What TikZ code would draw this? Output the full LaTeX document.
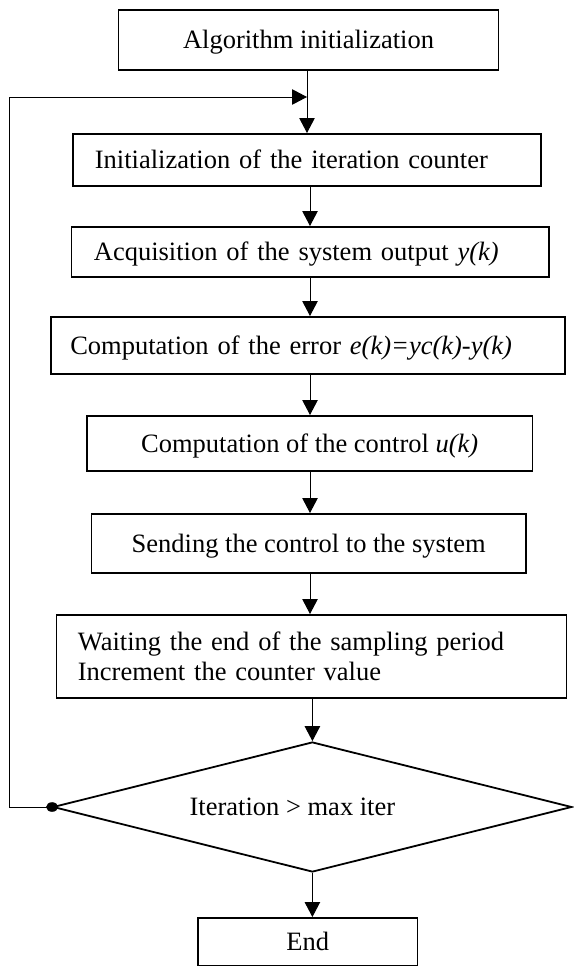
\documentclass[tikz,border=0pt]{standalone}
\usepackage{fontspec}
\setmainfont{Liberation Serif}
\usetikzlibrary{arrows.meta,shapes.geometric}
\begin{document}
\begin{tikzpicture}[x=1pt,y=-1pt,
  every node/.style={font=\fontsize{26.5}{30}\selectfont},
  stepbox/.style={draw,line width=1.8pt,rectangle,inner ysep=0pt,anchor=north west,
    text height=17.5pt,text depth=0pt},
  leftbox/.style 2 args={stepbox,minimum width=#1,inner xsep=#2,
    text width=#1-2*#2,align=left},
  midbox/.style={stepbox,minimum width=#1,inner xsep=0pt,align=center},
  arr/.style={line width=1pt,-{Triangle[length=15pt,width=15.5pt]}}]
\useasboundingbox (0,0) rectangle (573,966);

% process steps
\node[midbox=380pt,minimum height=60pt] (b1) at (117.6,9) {Algorithm initialization};
\node[leftbox={468pt}{22pt},minimum height=52pt] (b2) at (72,133)
  {Initialization of the iteration counter};
\node[leftbox={477.5pt}{22.5pt},minimum height=50pt] (b3) at (70.5,226)
  {Acquisition of the system output \textit{y(k)}};
\node[leftbox={514pt}{19pt},minimum height=57pt] (b4) at (50.4,316)
  {Computation of the error \textit{e(k)=yc(k)-y(k)}};
\node[midbox=445.6pt,minimum height=55pt] (b5) at (86,415)
  {Computation of the control \textit{u(k)}};
\node[midbox=434.4pt,minimum height=59pt] (b6) at (90.6,513)
  {Sending the control to the system};
\node[leftbox={510pt}{21.5pt},minimum height=83pt,text depth=30pt] (b7) at (55.5,614)
  {Waiting the end of the sampling period\\Increment the counter value};

% stop test
\node[draw,shape=diamond,aspect=4,line width=1.8pt,inner sep=0pt,
  minimum width=518.8pt,minimum height=130pt,
  label={[xshift=-20pt,text height=17.5pt,text depth=0pt]center:Iteration > max iter}]
  (dec) at (312.4,807) {};

\node[midbox=219.5pt,minimum height=48pt] (endb) at (197,917) {End};

% vertical flow
\coordinate (ax0) at (307,0);
\coordinate (ax) at (310,0);
\coordinate (fbx) at (9,0);
\coordinate (mrg) at (307,97);
\draw[arr] (b1.south -| ax0) -- (b2.north -| ax0);
\draw[arr] (b2.south -| ax) -- (b3.north -| ax);
\draw[arr] (b3.south -| ax) -- (b4.north -| ax);
\draw[arr] (b4.south -| ax) -- (b5.north -| ax);
\draw[arr] (b5.south -| ax) -- (b6.north -| ax);
\draw[arr] (b6.south -| ax) -- (b7.north -| ax);
\draw[arr] (b7.south -| dec.north) -- (dec.north);
\draw[arr] (dec.south) -- (endb.north -| dec.south);

% loop back to the counter initialization
\draw[arr] (dec.west) -- (dec.west -| fbx) |- (mrg);
\fill (dec.west) ellipse (6pt and 4.8pt);
\end{tikzpicture}
\end{document}
